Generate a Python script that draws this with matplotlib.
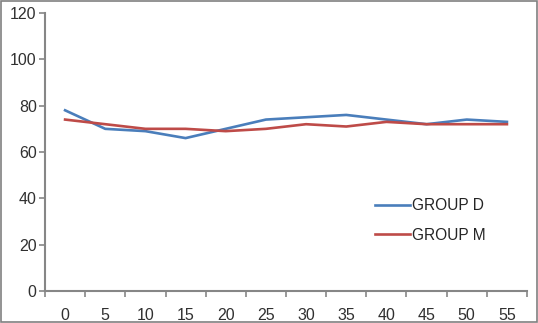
import matplotlib.pyplot as plt
from matplotlib.patches import Rectangle

plt.rcParams['font.family'] = ['Liberation Sans', 'DejaVu Sans']

minutes = [0, 5, 10, 15, 20, 25, 30, 35, 40, 45, 50, 55]
group_d = [78, 70, 69, 66, 70, 74, 75, 76, 74, 72, 74, 73]
group_m = [74, 72, 70, 70, 69, 70, 72, 71, 73, 72, 72, 72]
y_ticks = [0, 20, 40, 60, 80, 100, 120]

fig = plt.figure(figsize=(5.38, 3.23), dpi=100)
ax = fig.add_axes([45 / 538, 32 / 323, 482 / 538, 278 / 323])

pos = list(range(len(minutes)))
ax.plot(pos, group_d, color='#4a7ebb', lw=1.9, label='GROUP D')
ax.plot(pos, group_m, color='#be4b48', lw=1.9, label='GROUP M')

ax.set_xlim(-0.5, len(minutes) - 0.5)
ax.set_ylim(0, 120)
ax.set_yticks(y_ticks)
ax.set_xticks(pos)
ax.set_xticklabels([str(m) for m in minutes])
ax.set_xticks([p - 0.5 for p in range(len(minutes) + 1)], minor=True)

for s in ['top', 'right']:
    ax.spines[s].set_visible(False)
for s in ['left', 'bottom']:
    ax.spines[s].set_color('#868686')
    ax.spines[s].set_linewidth(1.5)

ax.tick_params(axis='x', which='major', length=0, pad=12, labelsize=11.5, labelcolor='#303030')
ax.tick_params(axis='x', which='minor', length=4, width=1.2, color='#868686')
ax.tick_params(axis='y', length=4, width=1.2, color='#868686', labelsize=11.5, labelcolor='#303030', pad=2)

ax.legend(loc='upper left', bbox_to_anchor=(0.655, 0.385), frameon=False,
          fontsize=11.2, handlelength=2.3, handletextpad=0.1, labelspacing=0.95,
          labelcolor='#252525')

# outer frame
fig.add_artist(Rectangle((0.002, 0.003), 0.996, 0.994, transform=fig.transFigure,
                         fill=False, edgecolor='#808080', lw=1.2))

fig.savefig('out.png', dpi=100)
